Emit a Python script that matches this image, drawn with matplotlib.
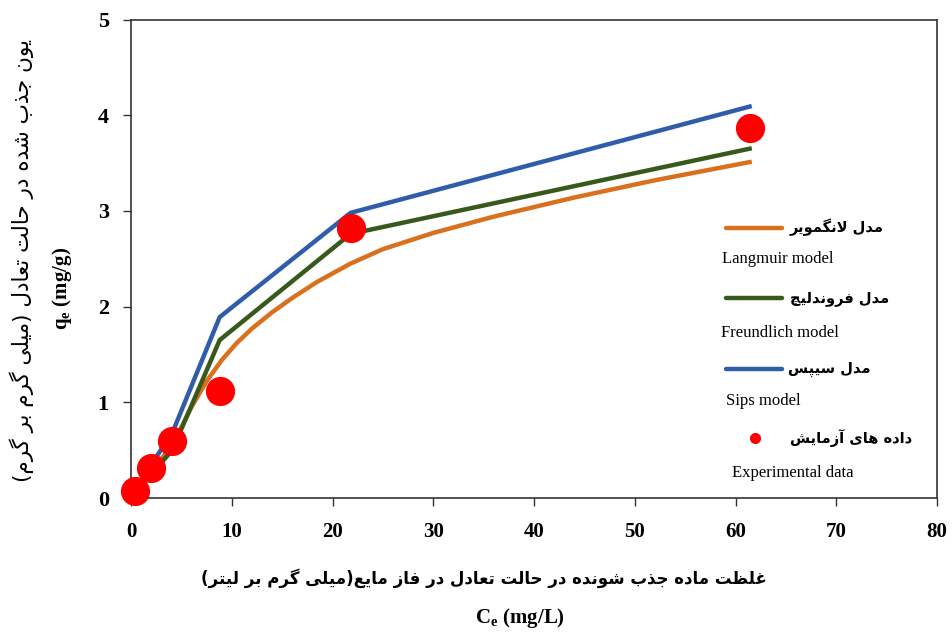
import matplotlib
matplotlib.use('Agg')
import matplotlib.pyplot as plt

# داده های آزمایش و مدل ها
ce_exp = [0.4, 2.0, 4.1, 8.8, 21.8, 61.4]
qe_exp = [0.07, 0.31, 0.60, 1.12, 2.82, 3.87]

ce_langmuir = [0.4, 2.0, 4.1, 6.0, 7.5, 9.0, 10.5, 12.0, 14.0, 16.0, 18.5, 21.8,
               25.0, 30.0, 36.0, 44.0, 52.0, 61.4]
qe_langmuir = [0.05, 0.28, 0.55, 0.95, 1.22, 1.44, 1.62, 1.77, 1.94, 2.09, 2.26, 2.45,
               2.60, 2.77, 2.94, 3.14, 3.32, 3.51]

ce_model = [0.4, 2.0, 4.1, 8.8, 21.8, 61.4]
qe_freundlich = [0.04, 0.25, 0.50, 1.65, 2.76, 3.65]
qe_sips = [0.07, 0.35, 0.68, 1.89, 2.98, 4.09]

x_ticks = [0, 10, 20, 30, 40, 50, 60, 70, 80]
y_ticks = [0, 1, 2, 3, 4, 5]

ylabel_fa = 'یون جذب شده در حالت تعادل (میلی گرم بر گرم)'
xlabel_fa = 'غلظت ماده جذب شونده در حالت تعادل در فاز مایع(میلی گرم بر لیتر)'
legend_fa = ['مدل لانگمویر', 'مدل فروندلیچ', 'مدل سیپس', 'داده های آزمایش']
legend_en = ['Langmuir model', 'Freundlich model', 'Sips model', 'Experimental data']

c_orange = '#D9701E'
c_green = '#375A1C'
c_blue = '#2F5DAA'
c_red = '#FF0000'

# شکل های حروف (منفرد، پایانی، آغازی، میانی)
FORMS = {
    'ا': ('\uFE8D', '\uFE8E'), 'آ': ('\uFE81', '\uFE82'),
    'د': ('\uFEA9', '\uFEAA'), 'ذ': ('\uFEAB', '\uFEAC'),
    'ر': ('\uFEAD', '\uFEAE'), 'ز': ('\uFEAF', '\uFEB0'),
    'و': ('\uFEED', '\uFEEE'),
    'ب': ('\uFE8F', '\uFE90', '\uFE91', '\uFE92'),
    'پ': ('\uFB56', '\uFB57', '\uFB58', '\uFB59'),
    'ت': ('\uFE95', '\uFE96', '\uFE97', '\uFE98'),
    'ج': ('\uFE9D', '\uFE9E', '\uFE9F', '\uFEA0'),
    'چ': ('\uFB7A', '\uFB7B', '\uFB7C', '\uFB7D'),
    'ح': ('\uFEA1', '\uFEA2', '\uFEA3', '\uFEA4'),
    'س': ('\uFEB1', '\uFEB2', '\uFEB3', '\uFEB4'),
    'ش': ('\uFEB5', '\uFEB6', '\uFEB7', '\uFEB8'),
    'ظ': ('\uFEC5', '\uFEC6', '\uFEC7', '\uFEC8'),
    'ع': ('\uFEC9', '\uFECA', '\uFECB', '\uFECC'),
    'غ': ('\uFECD', '\uFECE', '\uFECF', '\uFED0'),
    'ف': ('\uFED1', '\uFED2', '\uFED3', '\uFED4'),
    'ک': ('\uFB8E', '\uFB8F', '\uFB90', '\uFB91'),
    'گ': ('\uFB92', '\uFB93', '\uFB94', '\uFB95'),
    'ل': ('\uFEDD', '\uFEDE', '\uFEDF', '\uFEE0'),
    'م': ('\uFEE1', '\uFEE2', '\uFEE3', '\uFEE4'),
    'ن': ('\uFEE5', '\uFEE6', '\uFEE7', '\uFEE8'),
    'ه': ('\uFEE9', '\uFEEA', '\uFEEB', '\uFEEC'),
    'ی': ('\uFBFC', '\uFBFD', '\uFBFE', '\uFBFF'),
}


def fa(text):
    # اتصال حروف و برگرداندن ترتیب برای نمایش راست به چپ
    chars = list(text)
    n = len(chars)
    res = []
    i = 0
    while i < n:
        c = chars[i]
        if c not in FORMS:
            res.append(c)
            i += 1
            continue
        prev = chars[i - 1] if i > 0 else None
        joins_prev = prev in FORMS and len(FORMS[prev]) == 4
        if c == 'ل' and i + 1 < n and chars[i + 1] in ('ا', 'آ'):
            lig = ('\uFEFB', '\uFEFC') if chars[i + 1] == 'ا' else ('\uFEF5', '\uFEF6')
            res.append(lig[1] if joins_prev else lig[0])
            i += 2
            continue
        nxt = chars[i + 1] if i + 1 < n else None
        forms = FORMS[c]
        joins_next = len(forms) == 4 and nxt in FORMS
        if joins_prev and joins_next:
            res.append(forms[3])
        elif joins_prev:
            res.append(forms[1])
        elif joins_next:
            res.append(forms[2])
        else:
            res.append(forms[0])
        i += 1
    out = ''.join(reversed(res))
    return out.translate(str.maketrans('()', ')('))


plt.rcParams['font.family'] = ['Liberation Serif', 'DejaVu Sans']
plt.rcParams['mathtext.fontset'] = 'custom'
plt.rcParams['mathtext.rm'] = 'Liberation Serif'
plt.rcParams['mathtext.bf'] = 'Liberation Serif:bold'

W, H = 953, 634
fig = plt.figure(figsize=(W / 100, H / 100), dpi=100)
L, R, T, B = 131, 937, 19.5, 498
ax = fig.add_axes([L / W, 1 - B / H, (R - L) / W, (B - T) / H])

ax.plot(ce_langmuir, qe_langmuir, color=c_orange, lw=3.2, zorder=3,
        solid_joinstyle='round')
ax.plot(ce_model, qe_freundlich, color=c_green, lw=3.2, zorder=3)
ax.plot(ce_model, qe_sips, color=c_blue, lw=3.2, zorder=3)
ax.plot(ce_exp, qe_exp, 'o', color=c_red, ms=20, zorder=5, clip_on=False)

ax.set_xlim(0, 80)
ax.set_ylim(0, 5)
ax.set_xticks(x_ticks)
ax.set_yticks(y_ticks)
ax.tick_params(direction='out', length=6, width=1, color='#333333')
ax.tick_params(axis='x', labelsize=15, pad=11)
ax.tick_params(axis='y', labelsize=16, pad=10)
for lab in ax.get_xticklabels() + ax.get_yticklabels():
    lab.set_fontweight('bold')
for s in ax.spines.values():
    s.set_linewidth(1.2)
    s.set_color('#333333')


def axx(px):
    return (px - L) / (R - L)


def axy(py):
    return (B - py) / (B - T)


# راهنمای نمودار
handle_y = [228, 298, 369]
for col, hy in zip([c_orange, c_green, c_blue], handle_y):
    ax.plot([axx(726), axx(782)], [axy(hy), axy(hy)], color=col, lw=3.2,
            transform=ax.transAxes, clip_on=False, solid_capstyle='round')
ax.plot([axx(755)], [axy(438)], 'o', color=c_red, ms=7, transform=ax.transAxes)

fa_pos = [(790, 227), (790, 298), (788, 369), (790, 438)]
en_pos = [(722, 259), (721, 333), (726, 401), (732, 473)]
for txt, (px, py) in zip(legend_fa, fa_pos):
    ax.text(axx(px), axy(py), fa(txt), transform=ax.transAxes, ha='left', va='center',
            fontsize=10.5, fontweight='bold', family='DejaVu Sans')
for txt, (px, py) in zip(legend_en, en_pos):
    ax.text(axx(px), axy(py), txt, transform=ax.transAxes, ha='left', va='center',
            fontsize=12, family='Liberation Serif')

# عنوان محورها
fig.text(484 / W, 1 - 578 / H, fa(xlabel_fa), ha='center', va='center',
         fontsize=12, fontweight='bold', family='DejaVu Sans')
fig.text(520 / W, 1 - 618 / H, r'$\mathbf{C_e}$ (mg/L)', ha='center', va='center',
         fontsize=15, fontweight='bold')
fig.text(22 / W, 1 - 260 / H, fa(ylabel_fa), ha='center', va='center', rotation=90,
         fontsize=15.5, family='DejaVu Sans')
fig.text(62 / W, 1 - 288 / H, r'$\mathbf{q_e}$ (mg/g)', ha='center', va='center',
         rotation=90, fontsize=15, fontweight='bold')

fig.savefig('out.png', dpi=100)
